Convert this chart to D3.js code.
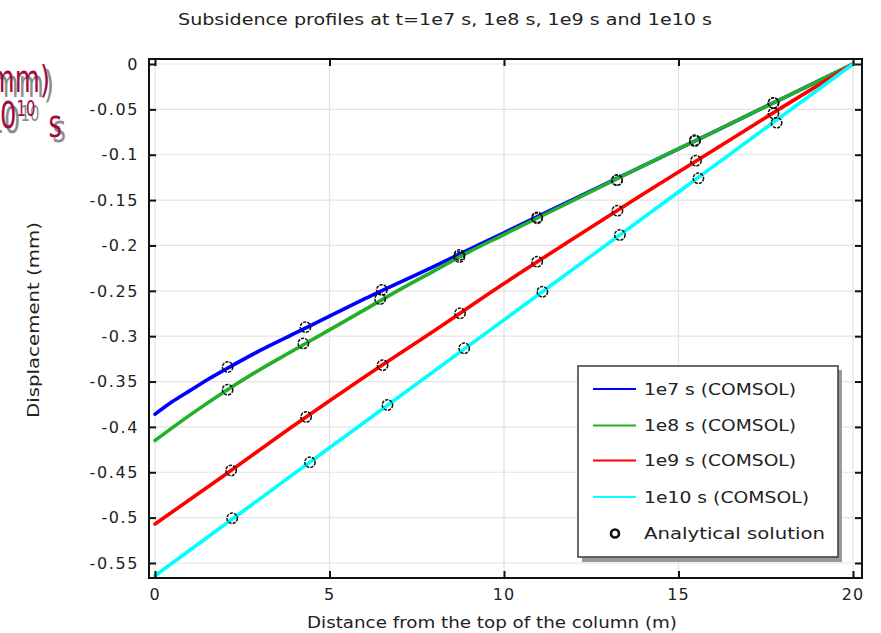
<!DOCTYPE html>
<html>
<head>
<meta charset="utf-8">
<script src="https://cdn.jsdelivr.net/npm/d3@7"></script>
<style>
  html, body { margin: 0; padding: 0; background: #fff; }
  svg { display: block; font-family: "DejaVu Sans", sans-serif; }
</style>
</head>
<body>
<svg id="chart" width="881" height="633"></svg>
<script>
// ---------- DATA ----------
const titleText = "Subsidence profiles at t=1e7 s, 1e8 s, 1e9 s and 1e10 s";
const xLabel = "Distance from the top of the column (m)";
const yLabel = "Displacement (mm)";

const xTicks = [0, 5, 10, 15, 20];
const xTickLabels = ["0", "5", "10", "15", "20"];
const yTicks = [0, -0.05, -0.1, -0.15, -0.2, -0.25, -0.3, -0.35, -0.4, -0.45, -0.5, -0.55];
const yTickLabels = ["0", "-0.05", "-0.1", "-0.15", "-0.2", "-0.25", "-0.3", "-0.35", "-0.4", "-0.45", "-0.5", "-0.55"];

const seriesNames = ["1e7 s (COMSOL)", "1e8 s (COMSOL)", "1e9 s (COMSOL)", "1e10 s (COMSOL)"];
const seriesColors = ["#0000ff", "#22b02a", "#ff0000", "#00ffff"];

// COMSOL curves: [distance (m), displacement (mm)]
const comsol1e7 = [[0,-0.386],[0.5,-0.372],[1,-0.360],[1.5,-0.348],[2,-0.337],[3,-0.316],[4,-0.297],[5,-0.278],[6,-0.259],[8,-0.223],[10,-0.186],[12,-0.149],[14,-0.112],[16,-0.075],[18,-0.0375],[20,0]];
const comsol1e8 = [[0,-0.415],[1,-0.387],[2,-0.361],[3,-0.337],[4,-0.315],[5,-0.293],[6,-0.271],[7,-0.249],[8,-0.228],[9,-0.207],[10,-0.188],[12,-0.150],[14,-0.112],[16,-0.075],[18,-0.0375],[20,0]];
const comsol1e9 = [[0,-0.507],[2,-0.453],[4,-0.398],[6,-0.345],[8,-0.294],[10,-0.242],[12,-0.192],[14,-0.143],[16,-0.095],[18,-0.047],[20,0]];
const comsol1e10 = [[0,-0.564],[5,-0.423],[10,-0.282],[15,-0.141],[20,0]];

// Analytical solution points
const analytic1e7 = [[2.08,-0.334],[4.31,-0.290],[6.50,-0.249],[8.72,-0.2105],[10.95,-0.169],[13.24,-0.128],[15.47,-0.084],[17.72,-0.043]];
const analytic1e8 = [[2.08,-0.359],[4.25,-0.308],[6.45,-0.259],[8.72,-0.2127],[10.95,-0.170],[13.24,-0.128],[15.47,-0.085],[17.72,-0.043]];
const analytic1e9 = [[2.18,-0.448],[4.33,-0.389],[6.52,-0.332],[8.74,-0.2748],[10.95,-0.2179],[13.25,-0.1617],[15.50,-0.1066],[17.72,-0.0543]];
const analytic1e10 = [[2.21,-0.5007],[4.44,-0.439],[6.66,-0.3758],[8.86,-0.3133],[11.10,-0.251],[13.32,-0.1885],[15.57,-0.126],[17.81,-0.0647]];

const comsolSeries = [comsol1e7, comsol1e8, comsol1e9, comsol1e10];
const analyticSeries = [analytic1e7, analytic1e8, analytic1e9, analytic1e10];
const analyticName = "Analytical solution";

// ---------- LAYOUT ----------
const svg = d3.select("#chart");
const frame = { left: 149, right: 862, top: 59, bottom: 578 };
const x = d3.scaleLinear().domain([0, 20]).range([155, 853]);
const y = d3.scaleLinear().domain([0, -0.55]).range([64, 563]);

// leftover clipped annotation (top-left)
function overlay(dx, dy, color) {
  const g = svg.append("g").attr("fill", color).style("font-size", "38px");
  g.append("text")
    .attr("transform", `translate(${50 + dx},${92 + dy}) scale(0.68,1)`)
    .attr("text-anchor", "end")
    .text("Displacement (mm)");
  const t = g.append("text")
    .attr("transform", `translate(${62 + dx},${128 + dy}) scale(0.68,1)`)
    .attr("text-anchor", "end");
  t.append("tspan").text("t = 10");
  t.append("tspan").attr("dy", "-0.55em").style("font-size", "22px").text("10");
  t.append("tspan").attr("dy", "0.55em").attr("dx", 7).text(" s");
}
overlay(4, 5, "#8c8c8c");
overlay(0, 0, "#9b0d3e");

// title
svg.append("text")
  .attr("x", 178).attr("y", 25)
  .attr("textLength", 534).attr("lengthAdjust", "spacingAndGlyphs")
  .style("font-size", "15px").attr("fill", "#222")
  .text(titleText);

// grid
const grid = svg.append("g").attr("stroke", "#e3e3e3").attr("stroke-width", 1.2);
grid.selectAll("line.gx").data(xTicks).join("line")
  .attr("x1", d => x(d)).attr("x2", d => x(d))
  .attr("y1", frame.top).attr("y2", frame.bottom);
grid.selectAll("line.gy").data(yTicks).join("line")
  .attr("x1", frame.left).attr("x2", frame.right)
  .attr("y1", d => y(d)).attr("y2", d => y(d));

// curves
const line = d3.line().x(d => x(d[0])).y(d => y(d[1])).curve(d3.curveMonotoneX);
svg.append("g").selectAll("path").data(comsolSeries).join("path")
  .attr("d", line)
  .attr("fill", "none")
  .attr("stroke", (d, i) => seriesColors[i])
  .attr("stroke-width", 3.6)
  .attr("stroke-linecap", "round");

// analytical markers
svg.append("g").selectAll("g").data(analyticSeries).join("g")
  .selectAll("circle").data(d => d).join("circle")
  .attr("cx", d => x(d[0])).attr("cy", d => y(d[1])).attr("r", 5.2)
  .attr("fill", "none").attr("stroke", "#111").attr("stroke-width", 1.5)
  .attr("stroke-dasharray", "3.2,1.1");

// frame
svg.append("rect")
  .attr("x", frame.left).attr("y", frame.top)
  .attr("width", frame.right - frame.left).attr("height", frame.bottom - frame.top)
  .attr("fill", "none").attr("stroke", "#111").attr("stroke-width", 2);

// axes via d3 axis generators (ticks inward)
const axisStyle = g => {
  g.select(".domain").remove();
  g.selectAll(".tick line").attr("stroke", "#111").attr("stroke-width", 2);
  g.selectAll(".tick text").remove();
};
svg.append("g").attr("transform", `translate(${frame.left},0)`)
  .call(d3.axisRight(y).tickValues(yTicks).tickSize(7)).call(axisStyle);
svg.append("g").attr("transform", `translate(${frame.right},0)`)
  .call(d3.axisLeft(y).tickValues(yTicks).tickSize(7)).call(axisStyle);
svg.append("g").attr("transform", `translate(0,${frame.bottom})`)
  .call(d3.axisTop(x).tickValues(xTicks).tickSize(7)).call(axisStyle);
svg.append("g").attr("transform", `translate(0,${frame.top})`)
  .call(d3.axisBottom(x).tickValues(xTicks).tickSize(7)).call(axisStyle);

// tick labels
svg.append("g").selectAll("text").data(yTicks).join("text")
  .attr("x", 139).attr("y", d => y(d)).attr("dy", "0.36em")
  .attr("text-anchor", "end")
  .style("font-size", "16px").style("letter-spacing", "1.6px").attr("fill", "#222")
  .text((d, i) => yTickLabels[i]);
svg.append("g").selectAll("text").data(xTicks).join("text")
  .attr("x", d => x(d)).attr("y", 600)
  .attr("text-anchor", "middle")
  .style("font-size", "16px").style("letter-spacing", "1px").attr("fill", "#222")
  .text((d, i) => xTickLabels[i]);

// axis titles
svg.append("text")
  .attr("x", 307).attr("y", 628)
  .attr("textLength", 370).attr("lengthAdjust", "spacingAndGlyphs")
  .style("font-size", "15px").attr("fill", "#222")
  .text(xLabel);
svg.append("text")
  .attr("transform", "translate(39,418) rotate(-90)")
  .attr("textLength", 196).attr("lengthAdjust", "spacingAndGlyphs")
  .style("font-size", "15px").attr("fill", "#222")
  .text(yLabel);

// legend
const lg = svg.append("g");
lg.append("rect").attr("x", 582).attr("y", 370).attr("width", 260).attr("height", 192)
  .attr("fill", "#9a9a9a");
lg.append("rect").attr("x", 578).attr("y", 366).attr("width", 260).attr("height", 191)
  .attr("fill", "#fff").attr("stroke", "#444").attr("stroke-width", 1.6);
const legendY = [389, 425.5, 460.5, 497];
seriesNames.forEach((name, i) => {
  lg.append("line").attr("x1", 593).attr("x2", 636)
    .attr("y1", legendY[i]).attr("y2", legendY[i])
    .attr("stroke", seriesColors[i]).attr("stroke-width", 2);
  lg.append("text").attr("x", 644).attr("y", legendY[i] + 5.5)
    .attr("textLength", name.length > 14 ? 165 : 152).attr("lengthAdjust", "spacingAndGlyphs")
    .style("font-size", "15px").attr("fill", "#222").text(name);
});
lg.append("circle").attr("cx", 615).attr("cy", 533.5).attr("r", 4)
  .attr("fill", "none").attr("stroke", "#111").attr("stroke-width", 2.6);
lg.append("text").attr("x", 644).attr("y", 539)
  .attr("textLength", 181).attr("lengthAdjust", "spacingAndGlyphs")
  .style("font-size", "15px").attr("fill", "#222").text(analyticName);
</script>
</body>
</html>
